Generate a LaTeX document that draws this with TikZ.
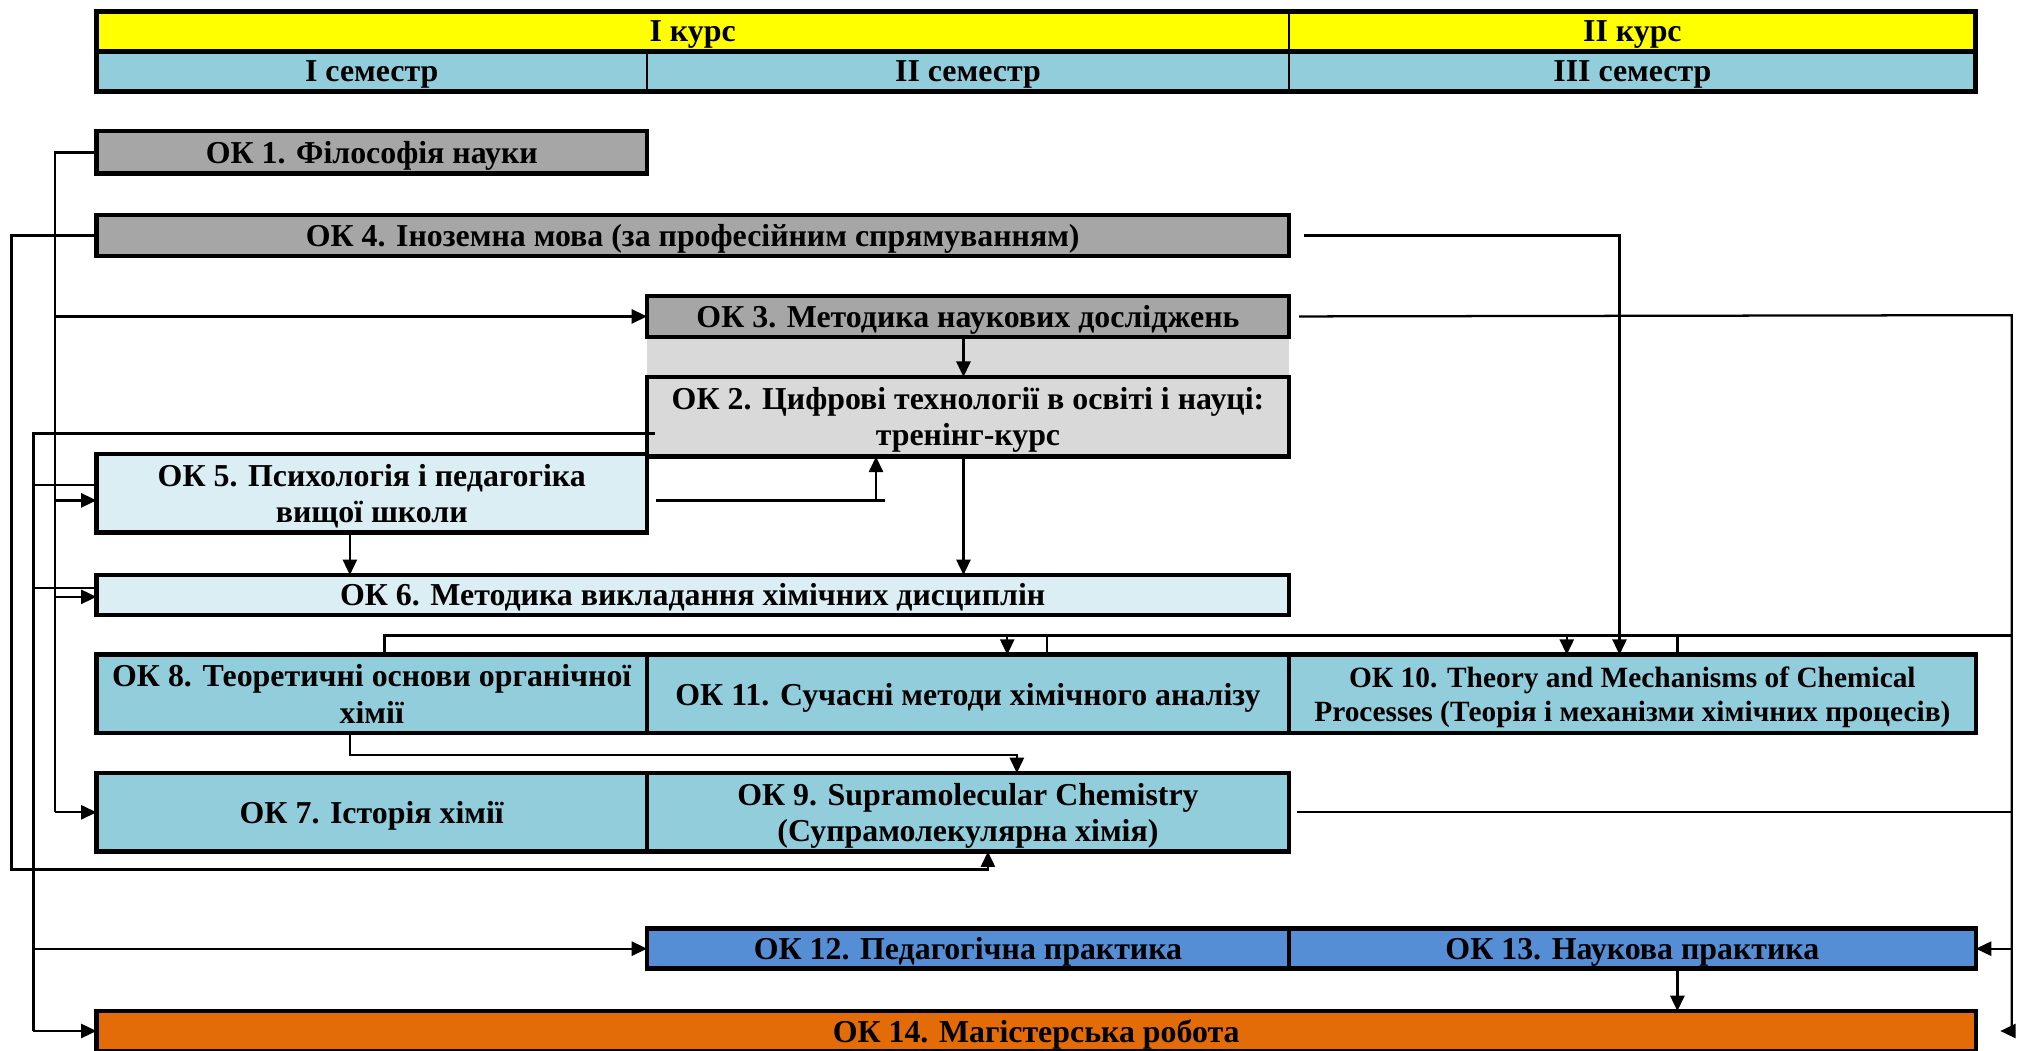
\documentclass[tikz,border=0pt]{standalone}
\usepackage{fontspec}
\setmainfont{Liberation Serif}
\usetikzlibrary{arrows.meta}

\definecolor{kursyellow}{HTML}{FFFF00}
\definecolor{semblue}{HTML}{92CDDC}
\definecolor{okgray}{HTML}{A6A6A6}
\definecolor{oklightgray}{HTML}{D9D9D9}
\definecolor{okpale}{HTML}{DAEEF3}
\definecolor{okpractice}{HTML}{558ED5}
\definecolor{okorange}{HTML}{E36C09}

\def\okrect[#1](#2)(#3,#4)(#5,#6)#7{\node[#1, minimum width={(#5-#3)*0.1mm}, minimum height={(#6-#4)*0.1mm}] (#2) at ({(#3+#5)/2}, {(#4+#6)/2}) {#7};}

\begin{document}
\begin{tikzpicture}[x=0.1mm, y=-0.1mm,
		cell/.style={draw, line width=0.4pt, inner sep=0pt, outer sep=0pt, text depth=0pt, align=center, font=\bfseries\fontsize{7.05}{8}\selectfont},
		okbox/.style={cell, line width=1pt},
		smalltext/.style={font=\bfseries\fontsize{6.5}{7.4}\selectfont},
		link/.style={line width=0.5pt},
		arr/.style={link, -{Triangle[length=1.2mm, width=1.1mm]}}]
			%%%%% START %%%%%
			
			\useasboundingbox (0, 0) rectangle (1568, 817);
			
			\okrect[cell, fill=kursyellow](kurs1)(75, 9)(1002, 40){I курс}
			\okrect[cell, fill=kursyellow](kurs2)(1002, 9)(1536, 40){II курс}
			\okrect[cell, fill=semblue](sem1)(75, 40)(503, 71){I семестр}
			\okrect[cell, fill=semblue](sem2)(503, 40)(1002, 71){II семестр}
			\okrect[cell, fill=semblue](sem3)(1002, 40)(1536, 71){III семестр}
			\draw[line width=1.1pt] (kurs1.north west) rectangle (kurs2.south east);
			\draw[line width=1.1pt] (sem1.north west) rectangle (sem3.south east);
			
			\fill[oklightgray] (503, 262) rectangle (1002, 293);
			
			\okrect[okbox, fill=okgray](ok1)(75, 102)(503, 135){ОК 1. Філософія науки}
			\okrect[okbox, fill=okgray](ok4)(75, 167)(1002, 199){ОК 4. Іноземна мова (за професійним спрямуванням)}
			\okrect[okbox, fill=okgray](ok3)(503, 230)(1002, 262){ОК 3. Методика наукових досліджень}
			\okrect[okbox, fill=oklightgray](ok2)(503, 293)(1002, 355){ОК 2. Цифрові технології в освіті і науці:\\тренінг-курс}
			\okrect[okbox, fill=okpale](ok5)(75, 353)(503, 414){ОК 5. Психологія і педагогіка\\вищої школи}
			\okrect[okbox, fill=okpale](ok6)(75, 447)(1002, 478){ОК 6. Методика викладання хімічних дисциплін}
			
			\okrect[okbox, fill=semblue](ok8)(75, 509)(503, 570){ОК 8. Теоретичні основи органічної\\хімії}
			\okrect[okbox, fill=semblue](ok11)(503, 509)(1002, 570){ОК 11. Сучасні методи хімічного аналізу}
			\okrect[okbox, fill=semblue, smalltext](ok10)(1002, 509)(1536, 570){ОК 10. Theory and Mechanisms of Chemical\\Processes (Теорія і механізми хімічних процесів)}
			\okrect[okbox, fill=semblue](ok7)(75, 601)(503, 662){ОК 7. Історія хімії}
			\okrect[okbox, fill=semblue](ok9)(503, 601)(1002, 662){ОК 9. Supramolecular Chemistry\\(Супрамолекулярна хімія)}
			
			\okrect[okbox, fill=okpractice](ok12)(503, 722)(1002, 753){ОК 12. Педагогічна практика}
			\okrect[okbox, fill=okpractice](ok13)(1002, 722)(1536, 753){ОК 13. Наукова практика}
			\okrect[okbox, fill=okorange](ok14)(75, 786)(1536, 817){ОК 14. Магістерська робота}
			
			\coordinate (lA) at (43, 245);
			\coordinate (lB) at (26, 337);
			\coordinate (lC) at (9, 676);
			\coordinate (lR) at (1564, 245);
			\coordinate (bus) at (1564, 494);
			\coordinate (j5) at (681, 389);
			
			% left side
			\draw[link] (ok1.west) -| (lA |- ok7.west);
			\draw[arr] (lA |- ok3.west) -- (ok3.west);
			\draw[arr] ([yshift=-.55mm]lA |- ok5.west) -- ([yshift=-.55mm]ok5.west);
			\draw[arr] ([yshift=-.15mm]lA |- ok6.west) -- ([yshift=-.15mm]ok6.west);
			\draw[arr] (lA |- ok7.west) -- (ok7.west);
			
			\draw[link] ([xshift=.6mm, yshift=-1.3mm]ok2.west) -| (lB |- ok14.west);
			\draw[link] ([yshift=.65mm]ok5.west) -- ([yshift=.65mm]lB |- ok5.west);
			\draw[link] ([yshift=.55mm]ok6.west) -- ([yshift=.55mm]lB |- ok6.west);
			\draw[arr] (lB |- ok12.west) -- (ok12.west);
			\draw[arr] (lB |- ok14.west) -- (ok14.west);
			
			\draw[arr] (ok4.west) -| (lC) -| ([xshift=1.55mm]ok9.south);
			\draw[arr] ([xshift=1.2mm]ok4.east) -| ([xshift=-1mm]ok10.north);
			
			% right side
			\draw[link] ([xshift=.8mm]ok3.east) -- (lR) -- (lR |- ok14.east);
			\draw[arr] (lR |- ok13.east) -- (ok13.east);
			\draw[arr] (lR |- ok14.east) -- ([xshift=1.9mm]ok14.east);
			\draw[link] ([xshift=.6mm]ok9.east) -- (lR |- ok9.east);
			
			% middle
			\draw[arr] ([xshift=-.35mm]ok3.south) -- ([xshift=-.35mm]ok2.north);
			\draw[arr] ([xshift=-.35mm]ok2.south) -- ([xshift=-.35mm]ok2.south |- ok6.north);
			\draw[arr] ([xshift=-1.7mm]ok5.south) -- ([xshift=-1.7mm]ok5.south |- ok6.north);
			\draw[link] ([xshift=.7mm]ok5.east |- j5) -- ([xshift=.7mm]j5);
			\draw[arr] (j5) -- (j5 |- ok2.south);
			
			\draw[link] ([xshift=1mm]ok8.north) |- (bus);
			\draw[link] ([xshift=6.15mm]ok11.north) -- ([xshift=6.15mm]ok11.north |- bus);
			\draw[link] ([xshift=3.5mm]ok10.north) -- ([xshift=3.5mm]ok10.north |- bus);
			\draw[arr] ([xshift=3.05mm]ok11.north |- bus) -- ([xshift=3.05mm]ok11.north);
			\draw[arr] ([xshift=-5.1mm]ok10.north |- bus) -- ([xshift=-5.1mm]ok10.north);
			
			\draw[arr] ([xshift=-1.7mm]ok8.south) -- ++(0, 17) -| ([xshift=3.8mm]ok9.north);
			\draw[arr] ([xshift=3.5mm]ok13.south) -- ([xshift=3.5mm]ok13.south |- ok14.north);
			
			%%%%% END %%%%%
\end{tikzpicture}
\end{document}
